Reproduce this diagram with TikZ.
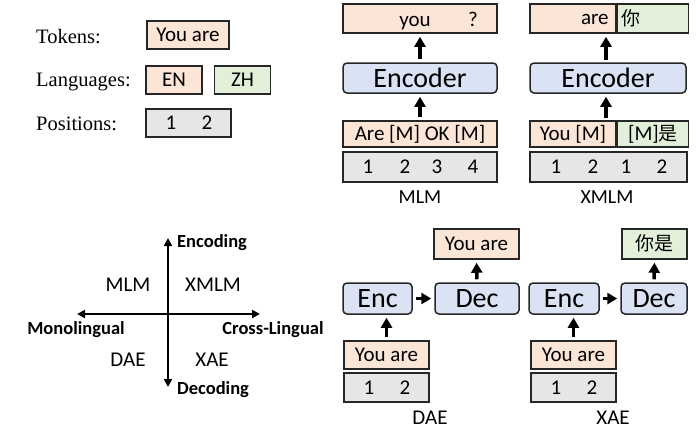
\documentclass[tikz,border=0pt]{standalone}
\usepackage{fontspec}
\setmainfont{Carlito}
\newfontfamily\tnr{Liberation Serif}
\newfontfamily\cjk{Noto Sans CJK SC}
\usetikzlibrary{positioning,calc,arrows.meta}

\definecolor{tokfill}{HTML}{FBE5D6}
\definecolor{zhfill}{HTML}{E2F0D9}
\definecolor{encfill}{HTML}{DAE3F3}
\definecolor{posfill}{HTML}{E7E6E6}

\newcommand{\fs}[1]{\fontsize{#1pt}{#1pt}\selectfont}

\begin{document}
\begin{tikzpicture}[x=1pt,y=-1pt]
  \tikzstyle{celltxt} = [inner sep=0pt,font=\fs{21},text height=13.5pt,text depth=0pt]
  \tikzstyle{cjktxt} = [inner sep=0pt,font=\cjk\fs{19},text height=15pt,text depth=2pt]
  \tikzstyle{cellbox} = [rectangle,draw=black!85,line width=1.5pt,celltxt]
  \tikzstyle{tok} = [cellbox,fill=tokfill]
  \tikzstyle{zh} = [cellbox,fill=zhfill]
  \tikzstyle{posbox} = [cellbox,fill=posfill]
  \tikzstyle{coder} = [cellbox,fill=encfill,rounded corners=4pt,font=\fs{28},
  text height=18pt]
  \tikzstyle{lbl} = [inner sep=0pt,font=\fs{20}]
  \tikzstyle{legend} = [anchor=west,inner sep=0pt,font=\tnr\fs{20.5}]
  \tikzstyle{axislbl} = [inner sep=0pt,font=\bfseries\fs{18.5}]

  \tikzstyle{ref} = [-{Triangle[length=10pt,width=11pt]},line width=3.5pt,
  shorten <=3pt,shorten >=3pt]
  \tikzstyle{twoway} = [{Triangle[length=8pt,width=8pt]}-{Triangle[length=8pt,width=8pt]},
  line width=2.3pt]

  \useasboundingbox (0,0) rectangle (700,432);

  % legend
  \node[legend] (ltok) at (36,37) {Tokens:};
  \node[legend] (llang) at (36,82) {Languages:};
  \node[legend] (lpos) at (36,124) {Positions:};
  \node[tok,minimum width=82,minimum height=28] (ytok) at (188,35) {You are};
  \node[tok,minimum width=56,minimum height=28] (yen) at (174,80) {EN};
  \node[zh,minimum width=56,minimum height=28,right=11pt of yen] (yzh) {ZH};
  \node[posbox,minimum width=85,minimum height=28] (ypos) at (188.5,123) {};
  \foreach \x/\n in {171/1,207/2}
    \node[celltxt] at (\x,123) {\n};

  % MLM
  \node[tok,minimum width=154,minimum height=29] (mlmout) at (420,18.5) {};
  \node[celltxt] (mlmyou) at (415,19.5) {you};
  \node[celltxt] (mlmq) at (473,19.5) {?};
  \node[coder,minimum width=154,minimum height=30] (mlmenc) at (420,78) {Encoder};
  \node[tok,minimum width=154,minimum height=26] (mlmin) at (420,134) {Are [M] OK [M]};
  \node[posbox,minimum width=154,minimum height=30] (mlmpos) at (420,167) {};
  \foreach \x/\n in {368/1,405/2,437/3,473/4}
    \node[celltxt] at (\x,167) {\n};
  \node[lbl] (mlmlbl) at (420,197) {MLM};

  \path (mlmin.north) edge[ref] (mlmenc.south);
  \path (mlmenc.north) edge[ref] (mlmout.south);

  % XMLM
  \node[tok,minimum width=86,minimum height=29] (xout1) at (573,18.5) {};
  \node[zh,minimum width=71,minimum height=29,anchor=west] (xout2) at (xout1.east) {};
  \node[celltxt,anchor=east] (xare) at ([xshift=-8pt,yshift=1pt]xout1.east) {are};
  \node[cjktxt,anchor=west] (xni) at ([xshift=5pt]xout2.west) {你};
  \node[coder,minimum width=156,minimum height=30] (xenc) at (608,78) {Encoder};
  \node[tok,minimum width=86,minimum height=26] (xin1) at (573,134) {You [M]};
  \node[zh,minimum width=71,minimum height=26,anchor=west] (xin2) at (xin1.east)
  {[M]{\cjk\fs{19}是}};
  \node[posbox,minimum width=157,minimum height=30] (xpos) at (608.5,167) {};
  \foreach \x/\n in {556/1,593/2,626/1,662/2}
    \node[celltxt] at (\x,167) {\n};
  \node[lbl] (xmlmlbl) at (607,197) {XMLM};

  \coordinate (xa) at (606,121);
  \path (xa) edge[ref] (xa |- xenc.south);
  \coordinate (xb) at (606,63);
  \path (xb) edge[ref] (xb |- xout1.south);

  % DAE
  \node[coder,minimum width=69,minimum height=31] (denc) at (377.5,298.5) {Enc};
  \node[coder,minimum width=84,minimum height=31] (ddec) at (477,298.5) {Dec};
  \node[tok,minimum width=85,minimum height=30] (dout) at (476.5,244) {You are};
  \node[tok,minimum width=85,minimum height=28] (din) at (386.5,355) {You are};
  \node[posbox,minimum width=85,minimum height=29] (dpos) at (386.5,387.5) {};
  \foreach \x/\n in {369/1,405/2}
    \node[celltxt] at (\x,387.5) {\n};
  \node[lbl,font=\fs{21}] (dlbl) at (430,418) {DAE};

  \path (din.north) edge[ref] (din.north |- denc.south);
  \path (denc.east) edge[ref] (ddec.west);
  \path (ddec.north) edge[ref] (dout.south);

  % XAE
  \node[coder,minimum width=70,minimum height=31] (xaenc) at (564,298.5) {Enc};
  \node[coder,minimum width=66,minimum height=31] (xadec) at (654,298.5) {Dec};
  \node[zh,cjktxt,draw=black!85,minimum width=65,minimum height=30] (xaout) at (654.5,244) {你是};
  \node[tok,minimum width=85,minimum height=28] (xain) at (573.5,355) {You are};
  \node[posbox,minimum width=85,minimum height=29] (xapos) at (573.5,387.5) {};
  \foreach \x/\n in {556/1,592/2}
    \node[celltxt] at (\x,387.5) {\n};
  \node[lbl,font=\fs{21}] (xalbl) at (613,418) {XAE};

  \path (xain.north) edge[ref] (xain.north |- xaenc.south);
  \path (xaenc.east) edge[ref] (xadec.west);
  \path (xadec.north) edge[ref] (xaout.south);

  % quadrant
  \coordinate (top) at (168,238);
  \coordinate (bot) at (168,387);
  \coordinate (lft) at (77,314);
  \coordinate (rgt) at (260,314);
  \path (top) edge[twoway] (bot);
  \path (lft) edge[twoway] (rgt);
  \node[axislbl,anchor=west] (encd) at (177,243) {Encoding};
  \node[axislbl,anchor=west] (decd) at (177,390) {Decoding};
  \node[axislbl] (mono) at (76,330) {Monolingual};
  \node[axislbl] (cross) at (273,330) {Cross-Lingual};
  \node[lbl,font=\fs{21}] (qmlm) at (128,285) {MLM};
  \node[lbl,font=\fs{21}] (qxmlm) at (213,285) {XMLM};
  \node[lbl,font=\fs{21}] (qdae) at (128,360) {DAE};
  \node[lbl,font=\fs{21}] (qxae) at (212,360) {XAE};
\end{tikzpicture}
\end{document}
